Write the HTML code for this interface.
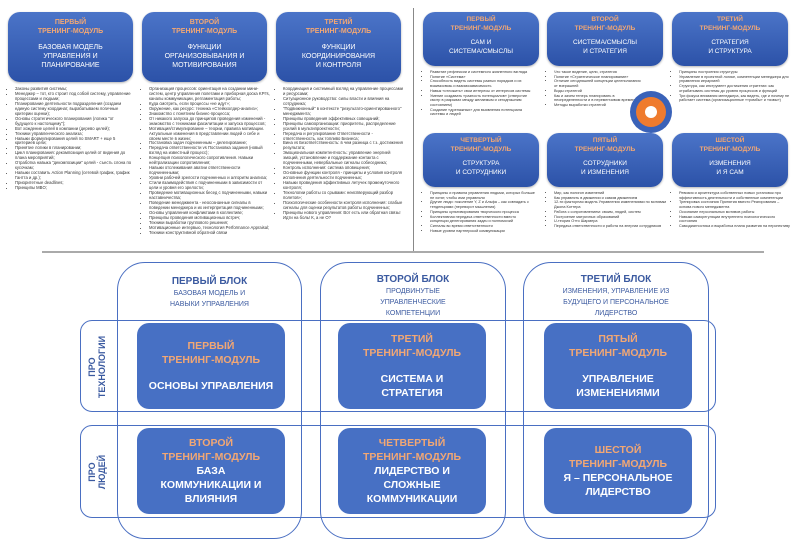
<!DOCTYPE html>
<html><head><meta charset="utf-8"><style>
*{margin:0;padding:0;box-sizing:border-box}
body{width:800px;height:544px;background:#fff;position:relative;overflow:hidden;font-family:"Liberation Sans","Noto Sans CJK SC",sans-serif}
.b{position:absolute;border-radius:12px;background:linear-gradient(#4b74c8,#2c52a8);color:#fff;text-align:center;box-shadow:0 1px 2px rgba(0,0,0,.3)}
.o{color:#f2a774;font-weight:bold}
.t{position:absolute;font-size:4.2px;line-height:4.95px;color:#333}
.t ul{padding-left:7px}
.col{position:absolute;border:1.5px solid #4a6fc2;border-radius:28px;top:262px;height:277px}
.row{position:absolute;border:1.5px solid #4a6fc2;border-radius:12px;left:80px;width:636px}
.ib{position:absolute;width:148px;border-radius:12px;background:#4770c4;color:#fff;text-align:center;font-weight:bold;font-size:10.5px;line-height:14px;display:flex;flex-direction:column;justify-content:center}
.ib .o{color:#f2a774}
.h{position:absolute;text-align:center;color:#3b5aa0;font-size:7px;line-height:11px}
.h b{font-size:10px}
.side{position:absolute;color:#3b5aa0;font-weight:bold;font-size:9px;line-height:10px;transform:rotate(-90deg);text-align:center;width:90px}
.r{font-size:3.8px;line-height:4.7px}
</style></head><body>
<div style="position:absolute;left:413px;top:8px;width:1px;height:244px;background:#888"></div>
<div style="position:absolute;left:42px;top:251px;width:722px;height:2px;background:#aaa"></div>

<div class="b" style="left:8px;top:12px;width:125px;height:70px;font-size:7px;line-height:9px;padding-top:6px"><div class="o">ПЕРВЫЙ<br>ТРЕНИНГ-МОДУЛЬ</div><div style="margin-top:7px">БАЗОВАЯ МОДЕЛЬ<br>УПРАВЛЕНИЯ И<br>ПЛАНИРОВАНИЕ</div></div>
<div class="b" style="left:142px;top:12px;width:125px;height:70px;font-size:7px;line-height:9px;padding-top:6px"><div class="o">ВТОРОЙ<br>ТРЕНИНГ-МОДУЛЬ</div><div style="margin-top:7px">ФУНКЦИИ<br>ОРГАНИЗОВЫВАНИЯ И<br>МОТИВИРОВАНИЯ</div></div>
<div class="b" style="left:276px;top:12px;width:125px;height:70px;font-size:7px;line-height:9px;padding-top:6px"><div class="o">ТРЕТИЙ<br>ТРЕНИНГ-МОДУЛЬ</div><div style="margin-top:7px">ФУНКЦИИ<br>КООРДИНИРОВАНИЯ<br>И КОНТРОЛЯ</div></div>

<div class="t" style="left:8px;top:87px;width:125px"><ul><li>Законы развития системы;</li><li>Менеджер – тот, кто строит под собой систему, управление процессами и людьми;</li><li>Планирование деятельности подразделения (создаем единую систему координат, вырабатываем логичные критерии оценки);</li><li>Основы стратегического планирования (логика "от будущего к настоящему");</li><li>Вот хождение целей в компании (дерево целей);</li><li>Техники управленческого анализа;</li><li>Навыки формулирования целей по SMART + еще 5 критериев цели;</li><li>Принятие логики в планировании;</li><li>Цикл планирования: декомпозиция целей от видения до плана мероприятий;</li><li>Отработка навыка "декомпозиции" целей - съесть слона по кусочкам;</li><li>Навыки составить Action Planning (сетевой график, график Гантта и др.);</li><li>Приоритетные deadlines;</li><li>Принципы MBO;</li></ul></div>
<div class="t" style="left:142px;top:87px;width:128px"><ul><li>Организация процессов: ориентация на создании мини-систем, центр управления полетами и приборная доска KPI's, каналы коммуникации, регламентация работы;</li><li>Куда смотреть, если процессы «не идут»;</li><li>Окружение, как ресурс: техника «Стейкхолдер-анализ»;</li><li>Знакомство с понятием бизнес-процесса;</li><li>От никакого запуска до принципов проведения изменений - знакомство с техниками фасилитации и запуска процессов;</li><li>Мотивация/стимулирование – теории, правила мотивации. Актуальные изменения в представлении людей о себе и своем месте в жизни;</li><li>Постановка задач подчиненным – делегирование;</li><li>Передача ответственности vs Постановка задания (новый взгляд на известный процесс);</li><li>Концепция психологического сопротивления. Навыки нейтрализации сопротивления;</li><li>Навыки отслеживания аватии ответственности подчиненными;</li><li>Уровни рабочей зрелости подчиненных и алгоритм анализа;</li><li>Стили взаимодействия с подчиненными в зависимости от цели и уровня его зрелости;</li><li>Проведение мотивационных бесед с подчиненными, навыки наставничества;</li><li>Поведение менеджмента - неосознанные сигналы в поведении менеджера и их интерпретация подчиненными;</li><li>Основы управления конфликтами в коллективе;</li><li>Принципы проведения мотивационных встреч;</li><li>Техники выработки группового решения;</li><li>Мотивационные интервью, технология Performance Appraisal;</li><li>Техники конструктивной обратной связи</li></ul></div>
<div class="t" style="left:276px;top:87px;width:128px"><ul><li>Координация и системный взгляд на управление процессами и ресурсами;</li><li>Ситуационное руководство: силы власти и влияния на сотрудника;</li><li>"Подвижнонный" в контексте "результато-ориентированного" менеджмента;</li><li>Принципы проведения эффективных совещаний;</li><li>Принципы самоорганизации: приоритеты, распределение усилий в мультипроектности;</li><li>Передача и регулирование Ответственности - ответственность, как топливо Бизнеса;</li><li>Вина vs Безответственность: в чем разница с т.з. достижения результата;</li><li>Эмоциональная компетентность: управление энергией эмоций, установление и поддержание контакта с подчиненными, невербальные сигналы собеседника;</li><li>Контроль исполнения: система оповещения;</li><li>Основные функции контроля - принципы и условия контроля исполнения деятельности подчиненных;</li><li>Навыки проведения эффективных летучек промежуточного контроля;</li><li>Технологии работы со срывами: неиспверующий разбор полетов»;</li><li>Психологические особенности контроля исполнения: слабые сигналы для оценки результатов работы подчиненных;</li><li>Принципы нового управления: Вот есть или обратная связь! Идти на боль! К, а не О?</li></ul></div>

<div class="b" style="left:423px;top:12px;width:116px;height:54px;font-size:6.5px;line-height:8.5px;padding-top:4px"><div class="o">ПЕРВЫЙ<br>ТРЕНИНГ-МОДУЛЬ</div><div style="margin-top:6px">САМ И<br>СИСТЕМА/СМЫСЛЫ</div></div>
<div class="b" style="left:547px;top:12px;width:116px;height:54px;font-size:6.5px;line-height:8.5px;padding-top:4px"><div class="o">ВТОРОЙ<br>ТРЕНИНГ-МОДУЛЬ</div><div style="margin-top:6px">СИСТЕМА/СМЫСЛЫ<br>И СТРАТЕГИЯ</div></div>
<div class="b" style="left:672px;top:12px;width:116px;height:54px;font-size:6.5px;line-height:8.5px;padding-top:4px"><div class="o">ТРЕТИЙ<br>ТРЕНИНГ-МОДУЛЬ</div><div style="margin-top:6px">СТРАТЕГИЯ<br>И СТРУКТУРА</div></div>
<div class="b" style="left:423px;top:133px;width:116px;height:54px;font-size:6.5px;line-height:8.5px;padding-top:4px"><div class="o">ЧЕТВЕРТЫЙ<br>ТРЕНИНГ-МОДУЛЬ</div><div style="margin-top:6px">СТРУКТУРА<br>И СОТРУДНИКИ</div></div>
<div class="b" style="left:547px;top:133px;width:116px;height:54px;font-size:6.5px;line-height:8.5px;padding-top:4px"><div class="o">ПЯТЫЙ<br>ТРЕНИНГ-МОДУЛЬ</div><div style="margin-top:6px">СОТРУДНИКИ<br>И ИЗМЕНЕНИЯ</div></div>
<div class="b" style="left:672px;top:133px;width:116px;height:54px;font-size:6.5px;line-height:8.5px;padding-top:4px"><div class="o">ШЕСТОЙ<br>ТРЕНИНГ-МОДУЛЬ</div><div style="margin-top:6px">ИЗМЕНЕНИЯ<br>И Я САМ</div></div>

<div class="t r" style="left:423px;top:70px;width:112px"><ul><li>Развитие рефлексии и системного жизненного взгляда</li><li>Понятие «Система»</li><li>Способность видеть системы разных порядков и их взаимосвязь и взаимозависимость</li><li>Навык «отложить» свои интересы от интересов системы</li><li>Умение создавать «разность потенциалов» (отверстие смотр в разрывах между желаемым и сегодняшним состоянием)</li><li>Создание «дренажных» для выявления потенциала системы и людей</li></ul></div>
<div class="t r" style="left:547px;top:70px;width:95px"><ul><li>Что такое видение, цели, стратегия</li><li>Понятие «Стратегическое планирование»</li><li>Отличие сегодняшней концепции целеполагания от вчерашней</li><li>Виды стратегий</li><li>Как и зачем теперь планировать в неопределенности и в переменчивом времени</li><li>Методы выработки стратегий</li></ul></div>
<svg style="position:absolute;left:629px;top:90px" width="44" height="44" viewBox="0 0 44 44"><circle cx="22" cy="22" r="21" fill="#3a62b8"/><circle cx="22" cy="22" r="15" fill="#ef7b2e"/><circle cx="22" cy="22" r="6" fill="#fff"/></svg>
<div class="t r" style="left:672px;top:70px;width:118px"><ul><li>Принципы построения структуры</li><li>Управление в проектной логике, компетенции менеджера для управления иерархией</li><li>Структура, как инструмент достижения стратегии: как отрабатывать системы до уровня процессов и функций</li><li>Три фокуса внимания менеджера, как видеть, где и почему не работает система (организационные «тромбы» и «язвы»)</li></ul></div>
<div class="t r" style="left:423px;top:191px;width:112px"><ul><li>Принципы и правила управления людьми, которых больше не хотят, чтобы ими управляли</li><li>Другие люди: поколение Y, Z и Альфа – как совпадать с тенденциями (переворот мышления)</li><li>Принципы культивирования творческого процесса</li><li>Коллективная передача ответственности вместо концепции делегирования задач и полномочий</li><li>Сигналы во время ответственности</li><li>Новые уровни партнерской коммуникации</li></ul></div>
<div class="t r" style="left:547px;top:191px;width:122px"><ul><li>Мир, как полигон изменений</li><li>Как управлять в движении и самим движением</li><li>12-ти факторная модель Управления изменениями по мотивам Джона Коттера</li><li>Работа с сопротивлением: своим, людей, систем</li><li>Построение матричных образований</li><li>U-теория Отто Шармера</li><li>Передача ответственности и работа на энергии сотрудников</li></ul></div>
<div class="t r" style="left:672px;top:191px;width:118px"><ul><li>Ревизия и архитектура собственных новых установок про эффективность деятельности и собственные компетенции</li><li>Тренировка состояния Принятия вместо Реагирования – основа нового менеджмента</li><li>Осознание персональных мотивов работы</li><li>Навыки саморегуляции внутреннего психологического состояния</li><li>Самодиагностика и выработка плана развития на перспективу</li></ul></div>

<div class="col" style="left:117px;width:185px"></div>
<div class="col" style="left:320px;width:186px"></div>
<div class="col" style="left:523px;width:186px"></div>
<div class="row" style="top:320px;height:92px"></div>
<div class="row" style="top:425px;height:93px"></div>

<div class="h" style="left:117px;top:276px;width:185px"><b>ПЕРВЫЙ БЛОК</b><br>БАЗОВАЯ МОДЕЛЬ И<br>НАВЫКИ УПРАВЛЕНИЯ</div>
<div class="h" style="left:320px;top:274px;width:186px"><b>ВТОРОЙ БЛОК</b><br>ПРОДВИНУТЫЕ<br>УПРАВЛЕНЧЕСКИЕ<br>КОМПЕТЕНЦИИ</div>
<div class="h" style="left:523px;top:274px;width:186px"><b>ТРЕТИЙ БЛОК</b><br>ИЗМЕНЕНИЯ, УПРАВЛЕНИЕ ИЗ<br>БУДУЩЕГО И ПЕРСОНАЛЬНОЕ<br>ЛИДЕРСТВО</div>

<div class="side" style="left:52px;top:357px">ПРО<br>ТЕХНОЛОГИИ</div>
<div class="side" style="left:52px;top:462px">ПРО<br>ЛЮДЕЙ</div>

<div class="ib" style="left:137px;top:323px;height:86px"><div class="o">ПЕРВЫЙ<br>ТРЕНИНГ-МОДУЛЬ</div><div style="margin-top:12px">ОСНОВЫ УПРАВЛЕНИЯ</div></div>
<div class="ib" style="left:338px;top:323px;height:86px"><div class="o">ТРЕТИЙ<br>ТРЕНИНГ-МОДУЛЬ</div><div style="margin-top:12px">СИСТЕМА И<br>СТРАТЕГИЯ</div></div>
<div class="ib" style="left:544px;top:323px;height:86px"><div class="o">ПЯТЫЙ<br>ТРЕНИНГ-МОДУЛЬ</div><div style="margin-top:12px">УПРАВЛЕНИЕ<br>ИЗМЕНЕНИЯМИ</div></div>
<div class="ib" style="left:137px;top:428px;height:86px"><div class="o">ВТОРОЙ<br>ТРЕНИНГ-МОДУЛЬ</div><div>БАЗА<br>КОММУНИКАЦИИ И<br>ВЛИЯНИЯ</div></div>
<div class="ib" style="left:338px;top:428px;height:86px"><div class="o">ЧЕТВЕРТЫЙ<br>ТРЕНИНГ-МОДУЛЬ</div><div>ЛИДЕРСТВО И<br>СЛОЖНЫЕ<br>КОММУНИКАЦИИ</div></div>
<div class="ib" style="left:544px;top:428px;height:86px"><div class="o">ШЕСТОЙ<br>ТРЕНИНГ-МОДУЛЬ</div><div>Я – ПЕРСОНАЛЬНОЕ<br>ЛИДЕРСТВО</div></div>
</body></html>
